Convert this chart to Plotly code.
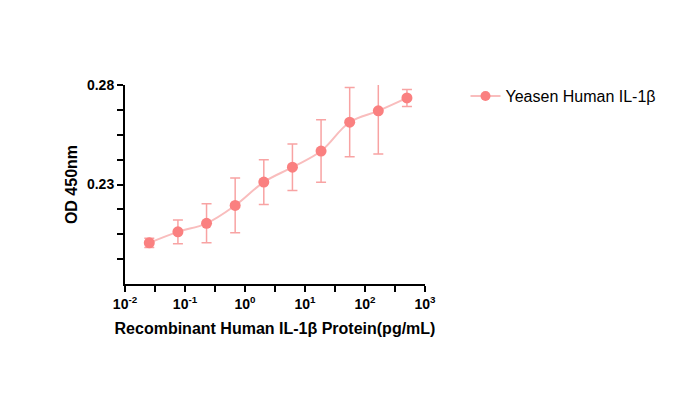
import plotly.graph_objects as go

conc = [500/3**k for k in range(9, -1, -1)]
od = [0.2007, 0.2062, 0.2105, 0.2195, 0.2312, 0.2387, 0.2468, 0.2613, 0.2670, 0.2735]
err = [0.0023, 0.0060, 0.0098, 0.0138, 0.0112, 0.0117, 0.0157, 0.0174, 0.0217, 0.0043]
series_name = "Yeasen Human IL-1β"
xtick_vals = [1e-2, 1e-1, 1e0, 1e1, 1e2, 1e3]
xtick_text = ["10<sup>-2</sup>", "10<sup>-1</sup>", "10<sup>0</sup>", "10<sup>1</sup>", "10<sup>2</sup>", "10<sup>3</sup>"]
xminor_vals = [10**(-1.5), 10**(-0.5), 10**0.5, 10**1.5, 10**2.5]
ytick_vals = [0.23, 0.28]
yminor_vals = [0.1925, 0.205, 0.2175, 0.2425, 0.255, 0.2675]

fig = go.Figure()
fig.add_trace(go.Scatter(
    x=conc, y=od, mode="lines", line=dict(color="#F9BDBD", width=2, shape="spline", smoothing=1.1),
    showlegend=False, hoverinfo="skip"))
fig.add_trace(go.Scatter(
    x=conc, y=od, mode="markers", name=series_name,
    marker=dict(color="#FA8080", size=11),
    error_y=dict(type="data", array=err, visible=True, color="#F8A3A3", thickness=1.5, width=5),
    showlegend=False))
fig.add_trace(go.Scatter(
    x=[None], y=[None], mode="lines+markers", name=series_name,
    marker=dict(color="#FA8080", size=10), line=dict(color="#F9BDBD", width=2)))

fig.update_layout(
    width=677, height=391,
    margin=dict(l=117, r=260, t=77, b=115, autoexpand=False),
    paper_bgcolor="white", plot_bgcolor="white",
    font=dict(family="Arial, Liberation Sans", color="black"),
    showlegend=True,
    legend=dict(x=1.135, y=1.03, xanchor="left", yanchor="top", font=dict(size=16, family="Liberation Sans"),
                bgcolor="rgba(0,0,0,0)", itemwidth=30),
    xaxis=dict(
        type="log", range=[-2, 3], showgrid=False, zeroline=False,
        showline=True, linecolor="black", linewidth=2,
        ticks="outside", ticklen=6, tickwidth=2, tickcolor="black",
        tickmode="array", tickvals=xtick_vals, ticktext=xtick_text,
        tickfont=dict(family="Liberation Sans", size=14, weight="bold"),
        minor=dict(tickmode="array", tickvals=xminor_vals, ticks="outside", ticklen=6, tickwidth=2, tickcolor="black"),
        title=dict(text="<b>Recombinant Human IL-1β Protein(pg/mL)</b>", font=dict(size=16, family="Liberation Sans"), standoff=12),
    ),
    yaxis=dict(
        range=[0.18, 0.28], showgrid=False, zeroline=False,
        showline=True, linecolor="black", linewidth=2,
        ticks="outside", ticklen=6, tickwidth=2, tickcolor="black",
        tickmode="array", tickvals=ytick_vals, ticktext=["0.23", "0.28"],
        tickfont=dict(family="Liberation Sans", size=14, weight="bold"),
        minor=dict(tickmode="array", tickvals=yminor_vals, ticks="outside", ticklen=6, tickwidth=2, tickcolor="black"),
        title=dict(text="<b>OD 450nm</b>", font=dict(size=16, family="Liberation Sans"), standoff=5),
    ),
)
fig.write_html("out.html")
